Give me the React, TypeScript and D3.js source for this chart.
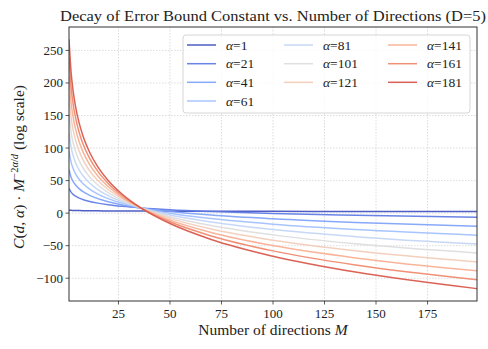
import React from "react";
import * as d3 from "d3";

// sampled directions M
const mValues = [1, 2, 3, 4, 6, 8, 11, 15, 20, 27, 36, 50, 70, 100, 140, 199];

const alphas = [1, 21, 41, 61, 81, 101, 121, 141, 161, 181];

// log C(d,a) * M^(-2a/d)
const a1 = [4.6, 4.3, 4.2, 4.0, 3.9, 3.8, 3.6, 3.5, 3.4, 3.3, 3.2, 3.0, 2.9, 2.8, 2.6, 2.5];
const a21 = [38.1, 32.3, 28.9, 26.5, 23.1, 20.6, 18.0, 15.4, 12.9, 10.4, 8.0, 5.2, 2.4, -0.6, -3.4, -6.4];
const a41 = [66.7, 55.3, 48.7, 44.0, 37.3, 32.6, 27.4, 22.3, 17.6, 12.6, 7.9, 2.5, -3.0, -8.8, -14.4, -20.1];
const a61 = [95.4, 78.5, 68.6, 61.6, 51.7, 44.7, 36.9, 29.3, 22.3, 15.0, 8.0, -0.1, -8.3, -17.0, -25.2, -33.8];
const a81 = [124.0, 101.5, 88.4, 79.1, 65.9, 56.6, 46.3, 36.3, 26.9, 17.2, 7.9, -2.8, -13.6, -25.2, -36.1, -47.5];
const a101 = [152.6, 124.6, 108.2, 96.6, 80.2, 68.6, 55.7, 43.2, 31.6, 19.4, 7.8, -5.4, -19.0, -33.4, -47.1, -61.2];
const a121 = [181.3, 147.8, 128.1, 114.2, 94.6, 80.7, 65.2, 50.2, 36.3, 21.8, 7.8, -8.0, -24.3, -41.6, -57.9, -74.9];
const a141 = [209.9, 170.8, 147.9, 131.7, 108.8, 92.6, 74.7, 57.2, 40.9, 24.0, 7.8, -10.7, -29.7, -49.8, -68.8, -88.6];
const a161 = [238.6, 194.0, 167.8, 149.3, 123.2, 104.7, 84.2, 64.2, 45.7, 26.3, 7.8, -13.3, -35.0, -58.0, -79.7, -102.3];
const a181 = [267.2, 217.0, 187.6, 166.9, 137.5, 116.7, 93.6, 71.1, 50.3, 28.6, 7.7, -16.0, -40.4, -66.2, -90.6, -116.0];

const seriesValues = [a1, a21, a41, a61, a81, a101, a121, a141, a161, a181];

const xTicks = [25, 50, 75, 100, 125, 150, 175];
const yTicks = [-100, -50, 0, 50, 100, 150, 200, 250];

// coolwarm at 0, 0.1, ... 0.9
const colors = ["#3b4cc0", "#5977e3", "#7b9ff9", "#9ebeff", "#c0d4f5", "#dddcdc", "#f2cbb7", "#f7ac8e", "#ee8468", "#d65244"];

const W = 488, H = 349;
const left = 69, right = 477, top = 27, bottom = 301;
const serif = "'Liberation Serif', 'DejaVu Serif', serif";

export default function App() {
  const x = d3.scaleLinear().domain([1, 199]).range([left, right]);
  const y = d3.scaleLinear().domain([-135, 286]).range([bottom, top]);
  const line = d3
    .line<number>()
    .x((_, i) => x(mValues[i]))
    .y((d) => y(d))
    .curve(d3.curveMonotoneX);

  const fmt = (v: number) => (v < 0 ? "\u2212" + Math.abs(v) : String(v));
  const legendCols = [187, 284, 388];
  const legendRows = [45, 63.7, 82.3, 101];
  const perCol = [4, 3, 3];
  const legendPos = alphas.map((_, i) => {
    let c = 0, r = i;
    while (r >= perCol[c]) { r -= perCol[c]; c++; }
    return { lx: legendCols[c], ly: legendRows[r] };
  });

  return (
    <svg width={W} height={H} style={{ display: "block", position: "absolute", left: 0, top: 0 }} fontFamily={serif}>
      <rect width={W} height={H} fill="#fff" />
      <defs>
        <clipPath id="plot">
          <rect x={left} y={top} width={right - left} height={bottom - top} />
        </clipPath>
      </defs>
      {/* grid */}
      <g stroke="#c4c4c4" strokeWidth={0.6} strokeDasharray="1.5,1.5">
        {xTicks.map((t) => (
          <line key={"gx" + t} x1={x(t)} x2={x(t)} y1={top} y2={bottom} />
        ))}
        {yTicks.map((t) => (
          <line key={"gy" + t} x1={left} x2={right} y1={y(t)} y2={y(t)} />
        ))}
      </g>
      {/* curves */}
      <g clipPath="url(#plot)" fill="none" strokeWidth={1.5}>
        {seriesValues.map((vals, i) => (
          <path key={alphas[i]} d={line(vals) || ""} stroke={colors[i]} strokeOpacity={0.9} />
        ))}
      </g>
      {/* axes frame */}
      <rect x={left} y={top} width={right - left} height={bottom - top} fill="none" stroke="#333" strokeWidth={1} />
      <g stroke="#333" strokeWidth={0.8}>
        {xTicks.map((t) => (
          <line key={"tx" + t} x1={x(t)} x2={x(t)} y1={bottom} y2={bottom + 3.5} />
        ))}
        {yTicks.map((t) => (
          <line key={"ty" + t} x1={left - 3.5} x2={left} y1={y(t)} y2={y(t)} />
        ))}
      </g>
      <g fontSize={13} fill="#222">
        {xTicks.map((t) => (
          <text key={"lx" + t} x={x(t)} y={bottom + 17} textAnchor="middle">{t}</text>
        ))}
        {yTicks.map((t) => (
          <text key={"ly" + t} x={left - 6} y={y(t) + 4.5} textAnchor="end">{fmt(t)}</text>
        ))}
      </g>
      {/* title */}
      <text x={(left + right) / 2} y={21} textAnchor="middle" fontSize={15.5} fill="#222" textLength={426} lengthAdjust="spacingAndGlyphs">
        Decay of Error Bound Constant vs. Number of Directions (D=5)
      </text>
      {/* x label */}
      <text x={(left + right) / 2} y={335} textAnchor="middle" fontSize={15.5} fill="#222">
        Number of directions <tspan fontStyle="italic">M</tspan>
      </text>
      {/* y label */}
      <text transform={`translate(24,${(top + bottom) / 2 + 3}) rotate(-90)`} textAnchor="middle" fontSize={15.5} fill="#222">
        <tspan fontStyle="italic">C</tspan>(<tspan fontStyle="italic">d</tspan>, <tspan fontStyle="italic">α</tspan>) · <tspan fontStyle="italic">M</tspan>
        <tspan fontSize={10.5} dy={-6}>−2<tspan fontStyle="italic">α</tspan>/<tspan fontStyle="italic">d</tspan></tspan>
        <tspan dy={6}> (log scale)</tspan>
      </text>
      {/* legend */}
      <rect x={183} y={35} width={287} height={78} rx={3} fill="#fff" fillOpacity={0.8} stroke="#cccccc" strokeWidth={0.8} />
      {alphas.map((a, i) => (
        <g key={"lg" + a}>
          <line x1={legendPos[i].lx} x2={legendPos[i].lx + 29} y1={legendPos[i].ly} y2={legendPos[i].ly} stroke={colors[i]} strokeOpacity={0.9} strokeWidth={1.5} />
          <text x={legendPos[i].lx + 39} y={legendPos[i].ly + 4.5} fontSize={13.5} fill="#222">
            <tspan fontStyle="italic">α</tspan>=<tspan>{a}</tspan>
          </text>
        </g>
      ))}
    </svg>
  );
}
